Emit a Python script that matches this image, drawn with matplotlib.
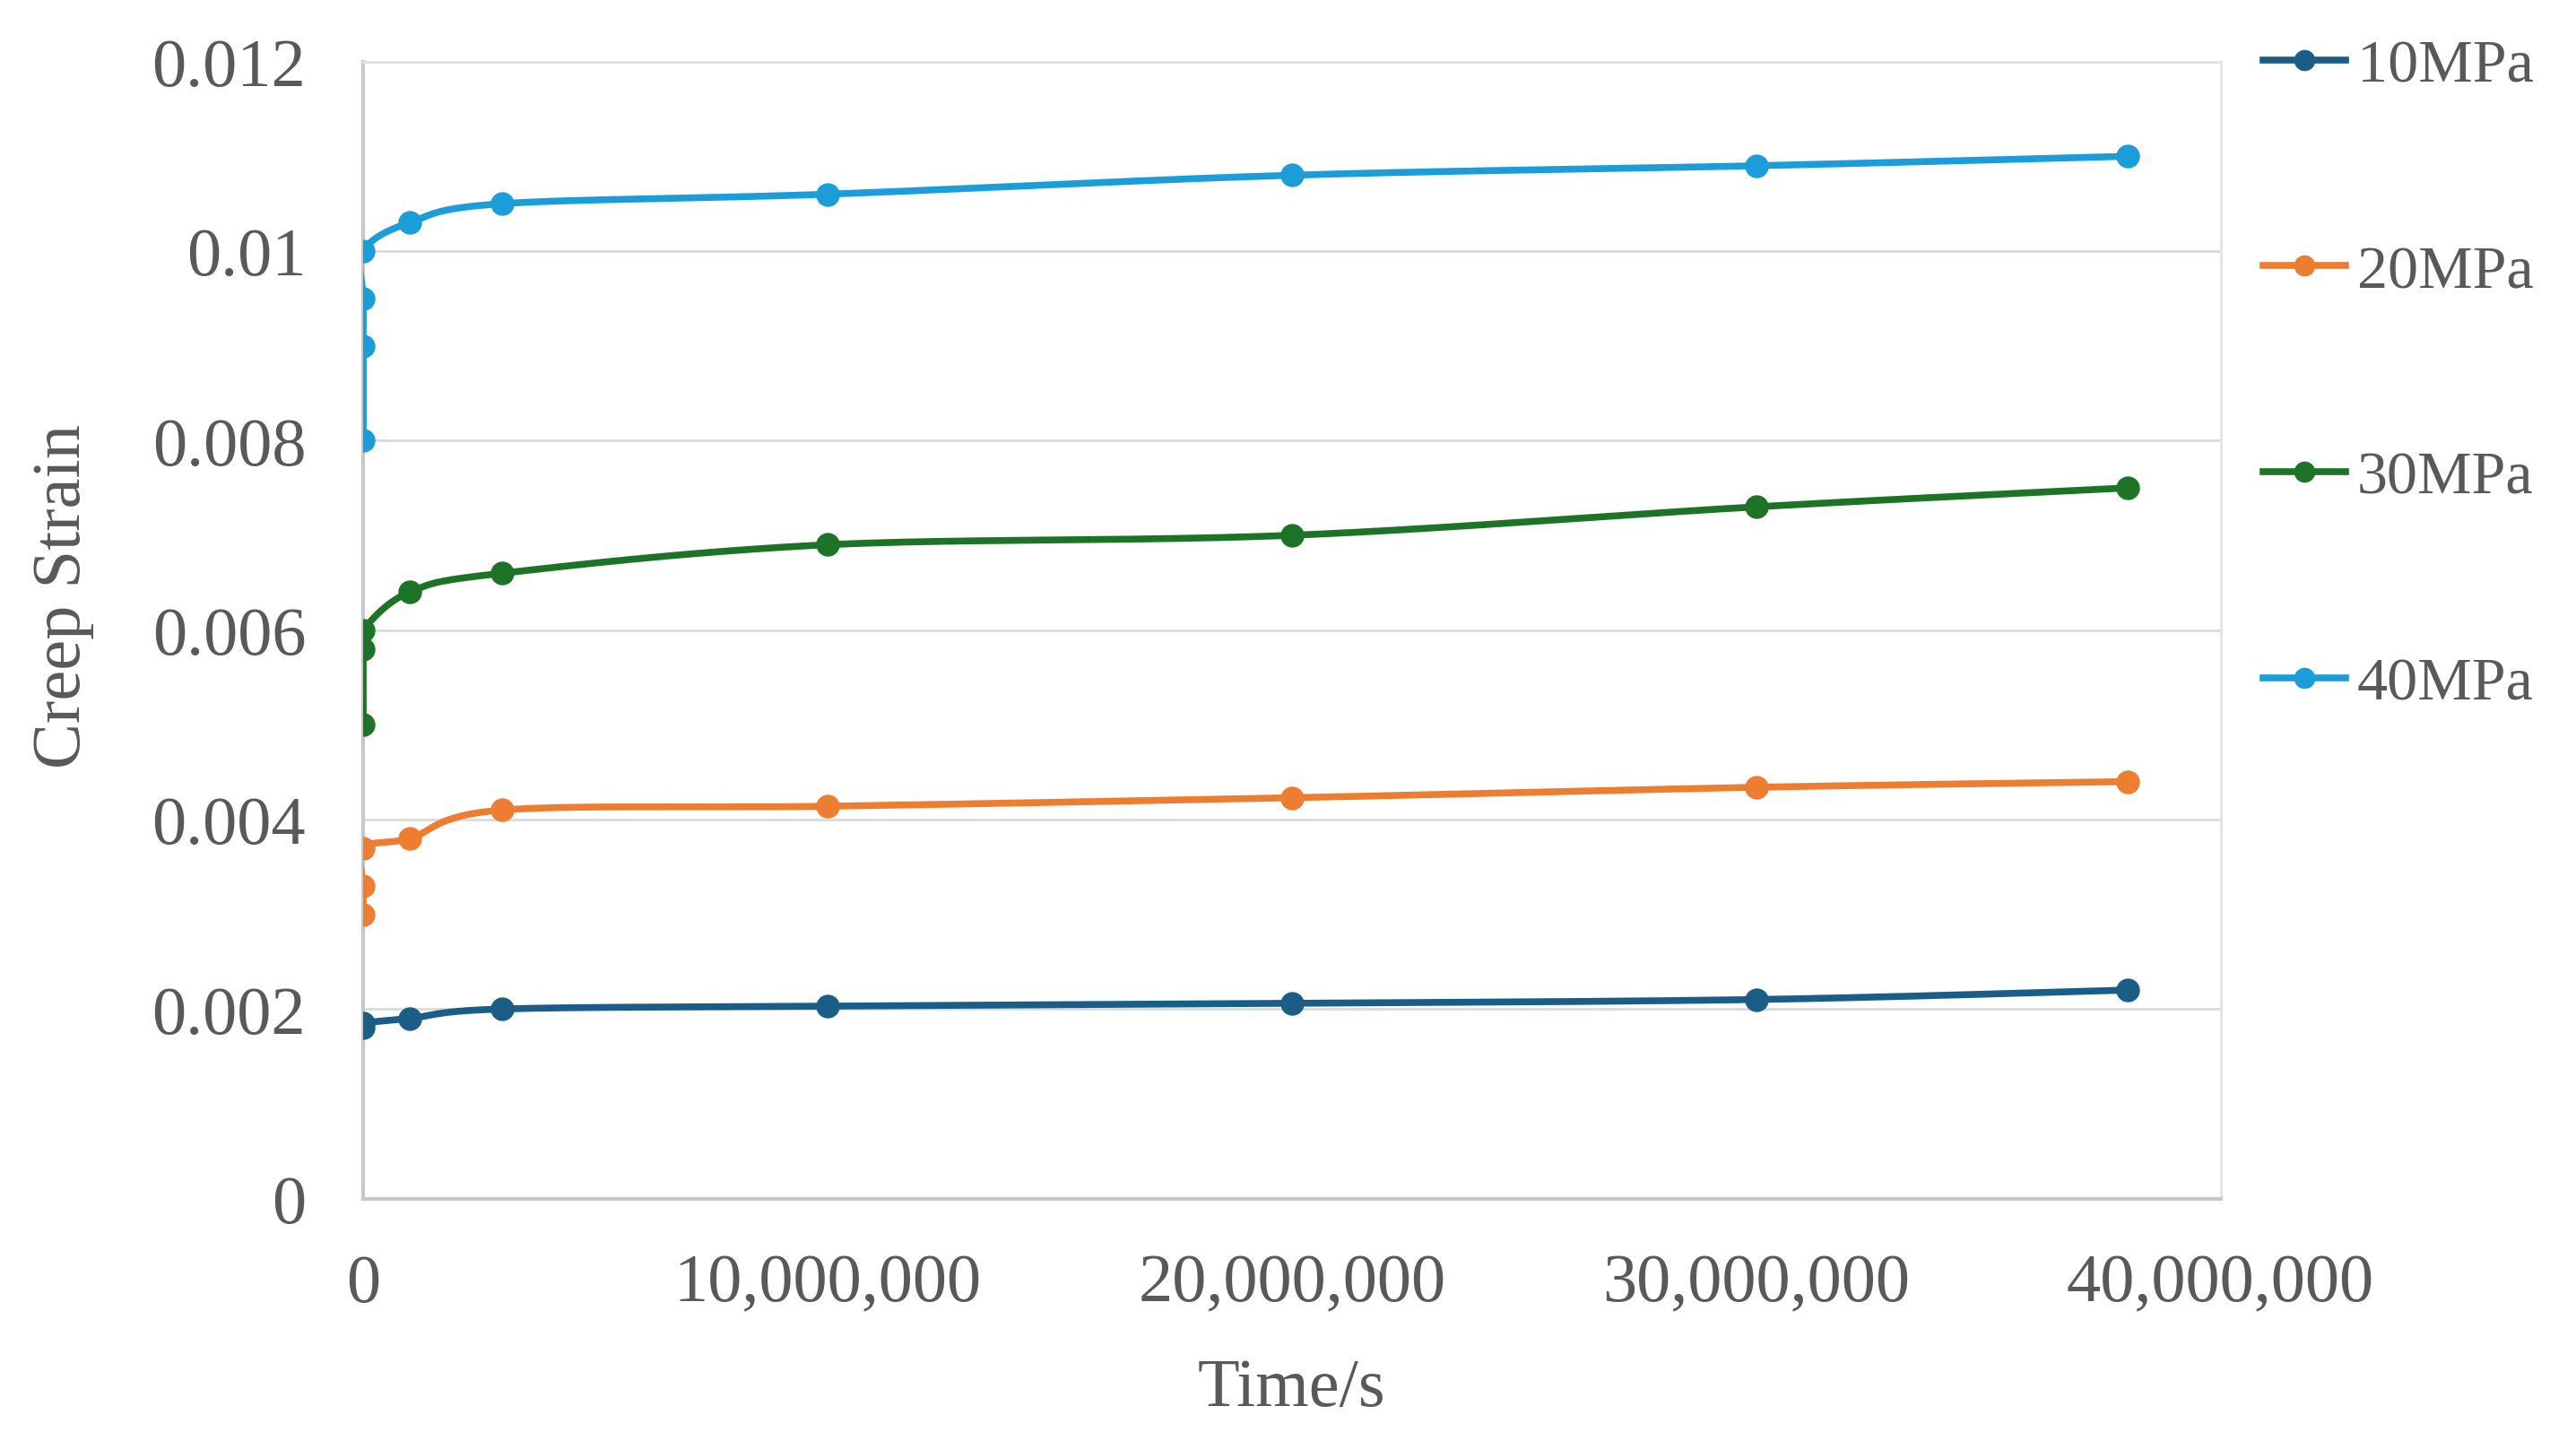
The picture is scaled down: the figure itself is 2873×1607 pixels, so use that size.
import numpy as np
import matplotlib
matplotlib.use("Agg")
import matplotlib.pyplot as plt
from matplotlib.ticker import FuncFormatter, MultipleLocator

plt.rcParams['font.family'] = ['Liberation Serif', 'DejaVu Serif']

# ---- data ----
series_names = ["10MPa", "20MPa", "30MPa", "40MPa"]
x_10 = [0, 0, 1.0e6, 3.0e6, 10.0e6, 20.0e6, 30.0e6, 38.0e6]
y_10 = [0.0018, 0.00185, 0.0019, 0.0020, 0.00203, 0.00206, 0.0021, 0.0022]
x_20 = [0, 0, 0, 1.0e6, 3.0e6, 10.0e6, 20.0e6, 30.0e6, 38.0e6]
y_20 = [0.0030, 0.0033, 0.0037, 0.0038, 0.0041, 0.00414, 0.00423, 0.00434, 0.0044]
x_30 = [0, 0, 0, 1.0e6, 3.0e6, 10.0e6, 20.0e6, 30.0e6, 38.0e6]
y_30 = [0.0050, 0.0058, 0.0060, 0.0064, 0.0066, 0.0069, 0.0070, 0.0073, 0.0075]
x_40 = [0, 0, 0, 0, 1.0e6, 3.0e6, 10.0e6, 20.0e6, 30.0e6, 38.0e6]
y_40 = [0.0080, 0.0090, 0.0095, 0.0100, 0.0103, 0.0105, 0.0106, 0.0108, 0.0109, 0.0110]
colors = ["#1A5E87", "#ED7D31", "#1E7426", "#1A9DD8"]


def smooth(xs, ys, n=40):
    P = np.column_stack([xs, ys]).astype(float)
    m = len(P)
    out = [P[0]]
    t = np.linspace(0, 1, n)[1:, None]
    for i in range(m - 1):
        p0 = P[i - 1] if i > 0 else P[i]
        p1, p2 = P[i], P[i + 1]
        p3 = P[i + 2] if i + 2 < m else P[i + 1]
        c1 = p1 + (p2 - p0) / 6.0
        c2 = p2 - (p3 - p1) / 6.0
        seg = ((1 - t) ** 3) * p1 + 3 * ((1 - t) ** 2) * t * c1 + 3 * (1 - t) * t ** 2 * c2 + t ** 3 * p2
        out.extend(seg)
    out = np.array(out)
    return out[:, 0], out[:, 1]


fig = plt.figure(figsize=(28.73, 16.08), dpi=100)
ax = fig.add_axes([0.141, 0.1682, 0.721, 0.7885])

for name, xs, ys, c in zip(series_names, [x_10, x_20, x_30, x_40],
                           [y_10, y_20, y_30, y_40], colors):
    sx, sy = smooth(xs, ys)
    ax.plot(sx, sy, color=c, lw=5.5, solid_capstyle='round', zorder=3)
    ax.plot(xs, ys, 'o', color=c, ms=18, zorder=4)
    ax.plot([], [], '-o', color=c, lw=5.5, ms=16, label=name)

ax.set_xlim(0, 40e6)
ax.set_ylim(0, 0.012)
ax.yaxis.set_major_locator(MultipleLocator(0.002))
ax.xaxis.set_major_locator(MultipleLocator(10e6))
ax.xaxis.set_major_formatter(FuncFormatter(lambda v, p: f"{v:,.0f}"))
ax.yaxis.set_major_formatter(FuncFormatter(lambda v, p: "0" if v == 0 else f"{v:.3f}".rstrip('0')))

ax.grid(axis='y', color='#DDDDDD', lw=2.2)
ax.set_axisbelow(True)
for s in ['top', 'right']:
    ax.spines[s].set_color('#E3E3E3')
    ax.spines[s].set_linewidth(2)
for s in ['left', 'bottom']:
    ax.spines[s].set_color('#C8C8C8')
    ax.spines[s].set_linewidth(3)

ax.tick_params(length=0, labelsize=55, labelcolor='#595959')
ax.tick_params(axis='y', pad=46)
ax.tick_params(axis='x', pad=44)

ax.set_xlabel("Time/s", fontsize=55, color='#595959', labelpad=34)
ax.set_ylabel("Creep Strain", fontsize=55, color='#595959')
ax.yaxis.set_label_coords(-0.145, 0.53)

leg = ax.legend(loc='upper left', bbox_to_anchor=(1.0, 1.058), frameon=False,
                fontsize=49, labelcolor='#595959', handlelength=1.35,
                handletextpad=0.19, labelspacing=2.47, borderaxespad=0.3)

fig.savefig("out.png", dpi=100, facecolor='white')
